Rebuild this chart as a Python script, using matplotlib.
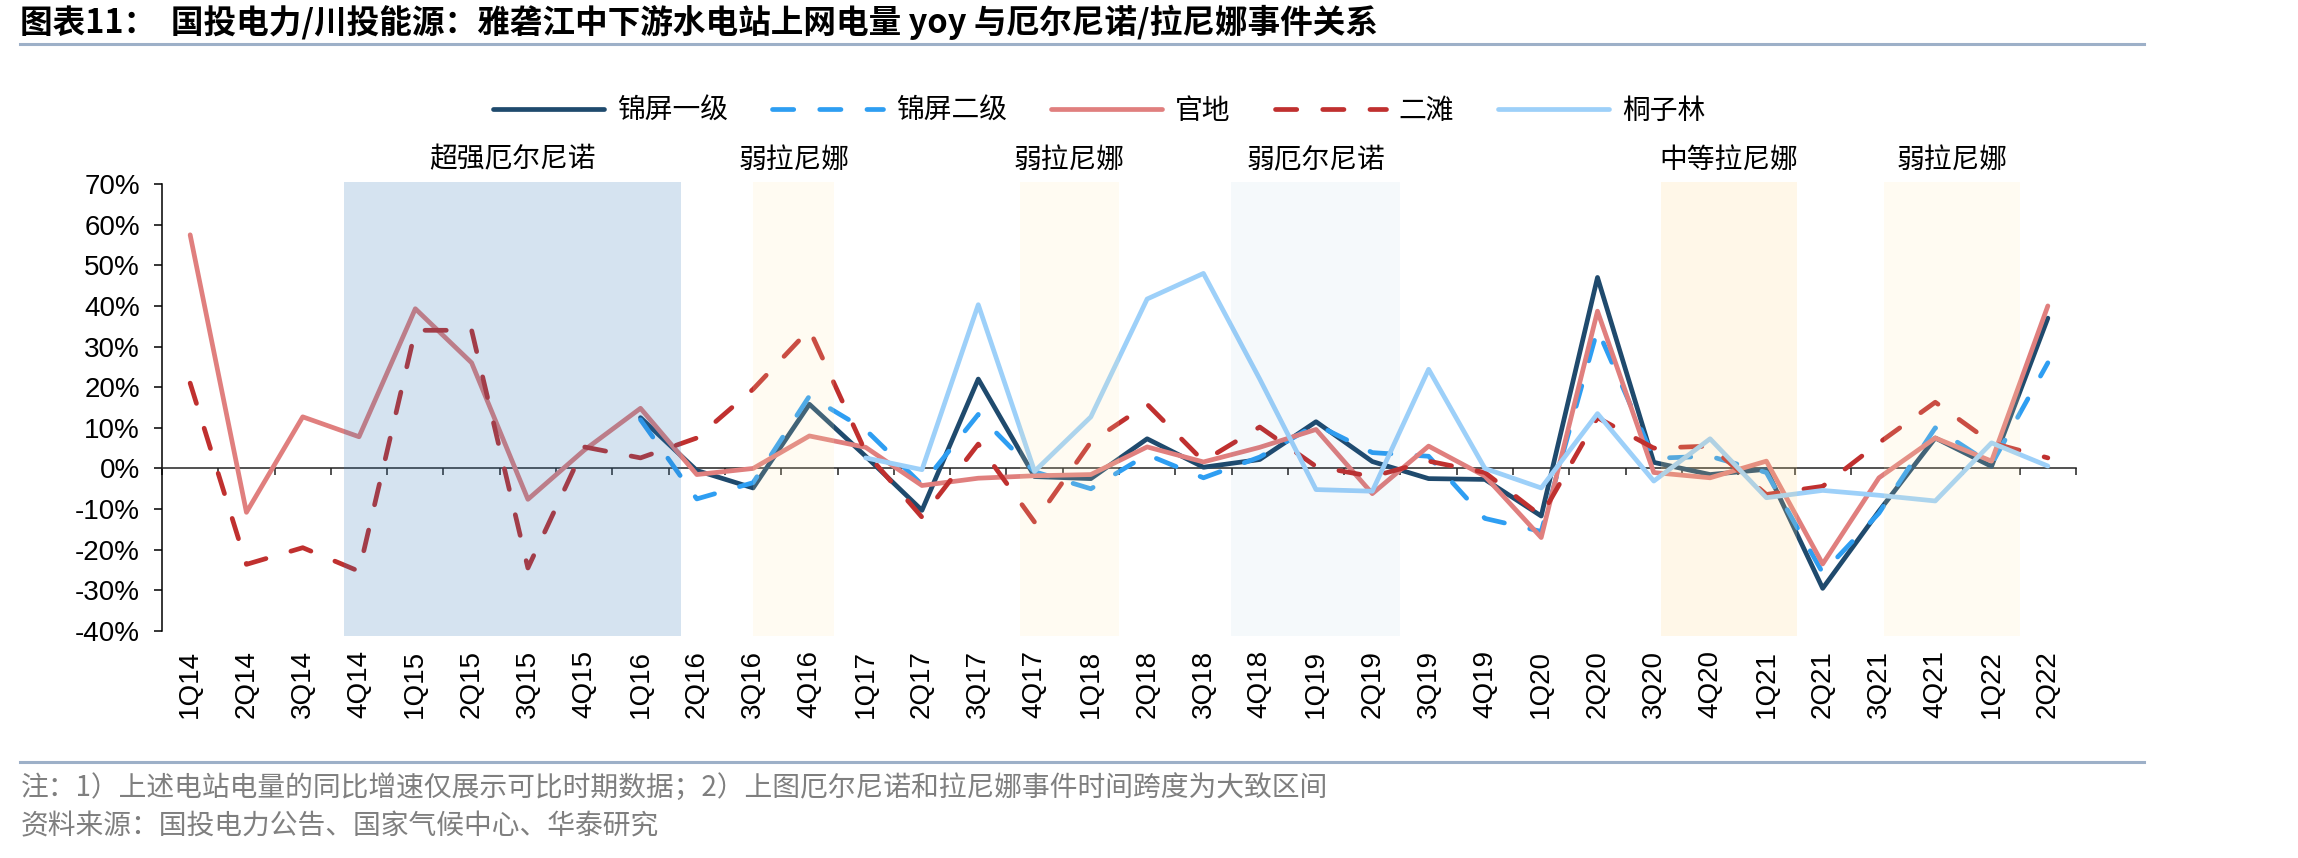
import numpy as np
import matplotlib
matplotlib.use("Agg")
import matplotlib.pyplot as plt
from matplotlib.lines import Line2D
import matplotlib.transforms as mtransforms

nan = np.nan

quarters = ["1Q14", "2Q14", "3Q14", "4Q14", "1Q15", "2Q15", "3Q15", "4Q15",
            "1Q16", "2Q16", "3Q16", "4Q16", "1Q17", "2Q17", "3Q17", "4Q17",
            "1Q18", "2Q18", "3Q18", "4Q18", "1Q19", "2Q19", "3Q19", "4Q19",
            "1Q20", "2Q20", "3Q20", "4Q20", "1Q21", "2Q21", "3Q21", "4Q21",
            "1Q22", "2Q22"]

jinping1 = [nan, nan, nan, nan, nan, nan, nan, nan,
            12.5, -0.5, -4.8, 15.8, 3.0, -10.3, 22.0, -2.0,
            -2.5, 7.3, 0.3, 2.2, 11.5, 1.7, -2.5, -2.7,
            -11.7, 47.0, 1.5, -1.5, -0.2, -29.5, -10.5, 7.5,
            0.5, 37.0]
jinping2 = [nan, nan, nan, nan, nan, nan, nan, nan,
            12.0, -7.5, -3.5, 17.8, 9.5, -4.0, 13.3, -0.8,
            -5.0, 3.4, -2.3, 2.8, 10.8, 3.9, 3.0, -12.3,
            -15.5, 34.2, 2.5, 3.0, -1.0, -25.7, -11.0, 10.0,
            1.0, 26.0]
guandi = [57.5, -10.8, 12.7, 7.8, 39.3, 26.0, -7.6, 4.5,
          14.8, -1.5, 0.0, 8.0, 5.2, -4.2, -2.4, -1.8,
          -1.5, 5.3, 1.6, 5.2, 9.6, -6.2, 5.5, -1.9,
          -17.0, 38.7, -1.0, -2.3, 1.8, -23.5, -2.3, 7.5,
          1.8, 40.0]
ertan = [21.0, -23.6, -19.5, -25.3, 34.0, 34.0, -24.5, 5.3,
         2.6, 7.5, 19.5, 34.2, 4.0, -12.0, 6.0, -13.2,
         6.5, 15.8, 1.8, 10.2, 0.5, -2.0, 1.8, -1.0,
         -11.7, 12.5, 5.0, 5.5, -6.4, -4.4, 6.3, 16.3,
         6.3, 2.6]
tongzilin = [nan, nan, nan, nan, nan, nan, nan, nan,
             nan, nan, nan, nan, 2.6, -0.3, 40.3, -0.7,
             12.7, 41.7, 48.0, 22.0, -5.2, -5.6, 24.4, 0.0,
             -4.8, 13.5, -3.1, 7.3, -7.2, -5.4, -6.6, -8.0,
             6.3, 0.6]

series_names = ["锦屏一级", "锦屏二级", "官地", "二滩", "桐子林"]

event_names = ["超强厄尔尼诺", "弱拉尼娜", "弱拉尼娜", "弱厄尔尼诺", "中等拉尼娜", "弱拉尼娜"]
event_start = [2.73, 10.0, 14.74, 18.49, 26.12, 30.09]
event_end = [8.72, 11.44, 16.5, 21.49, 28.54, 32.5]
event_kind = ["strong_nino", "weak_nina", "weak_nina", "weak_nino", "mid_nina", "weak_nina"]

y_ticks = [-40, -30, -20, -10, 0, 10, 20, 30, 40, 50, 60, 70]

title = "图表11：  国投电力/川投能源：雅砻江中下游水电站上网电量 yoy 与厄尔尼诺/拉尼娜事件关系"
note = "注：1）上述电站电量的同比增速仅展示可比时期数据；2）上图厄尔尼诺和拉尼娜事件时间跨度为大致区间"
source = "资料来源：国投电力公告、国家气候中心、华泰研究"

# ---------------- styling ----------------
CJK = ["Noto Sans CJK SC", "DejaVu Sans"]
LAT = ["Liberation Sans", "DejaVu Sans"]
plt.rcParams["font.family"] = CJK

W, H = 2298, 858
fig = plt.figure(figsize=(W / 100, H / 100), dpi=100)
fig.patch.set_facecolor("white")

ax = fig.add_axes([162 / W, 1 - 631 / H, (2076 - 162) / W, (631 - 184) / H])
ax.set_xlim(-0.5, len(quarters) - 0.5)
ax.set_ylim(-40, 70)

x = np.arange(len(quarters))
lw = 3.4
dash = (4.5, 5.5)
styles = [
    (jinping1, "#1F4A6D", None),
    (jinping2, "#2E9EF2", dash),
    (guandi, "#E07F7E", None),
    (ertan, "#C0302F", dash),
    (tongzilin, "#9DD0F9", None),
]
handles = []
for (vals, col, ds), name in zip(styles, series_names):
    kw = dict(color=col, lw=lw, solid_joinstyle="round", solid_capstyle="round",
              dash_capstyle="round", dash_joinstyle="round", zorder=3, label=name)
    if ds is not None:
        kw["dashes"] = ds
    ln, = ax.plot(x, vals, **kw)
    handles.append(ln)

# event shading (overlay on top of the lines)
kind_style = {
    "strong_nino": ("#2E75B6", 0.20),
    "weak_nino": ("#2E75B6", 0.045),
    "weak_nina": ("#FFE9B0", 0.16),
    "mid_nina": ("#FFD98C", 0.20),
}
trans_lbl = mtransforms.blended_transform_factory(ax.transData, ax.transAxes)
for nm, s, e, k in zip(event_names, event_start, event_end, event_kind):
    c, a = kind_style[k]
    ax.axvspan(s, e, ymin=-0.012, ymax=1.004, facecolor=c, alpha=a, lw=0,
               zorder=5, clip_on=False)
    ax.text((s + e) / 2, 1.055, nm, transform=trans_lbl, ha="center", va="center",
            fontsize=20, color="black", family=CJK, clip_on=False)

# axes
for sp in ["top", "right"]:
    ax.spines[sp].set_visible(False)
ax.spines["left"].set_color("black")
ax.spines["left"].set_linewidth(1.1)
ax.spines["bottom"].set_position(("data", 0))
ax.spines["bottom"].set_color("#222222")
ax.spines["bottom"].set_linewidth(1.1)
ax.spines["bottom"].set_zorder(2.5)

ax.set_xticks(np.arange(-0.5, len(quarters), 1.0))
ax.tick_params(axis="x", direction="out", length=5, width=1.1, labelbottom=False,
               color="#222222")
ax.set_yticks(y_ticks)
ax.set_yticklabels([f"{v}%" for v in y_ticks], family=LAT, fontsize=20)
ax.tick_params(axis="y", direction="out", length=5.5, width=1.1, pad=10.5)

sec = ax.secondary_xaxis(0)
sec.set_xticks(x, labels=quarters, rotation=90, family=LAT, fontsize=20)
sec.tick_params(length=0, pad=13.5)
sec.spines["bottom"].set_visible(False)

# legend
fig.legend(handles, series_names, loc="center", bbox_to_anchor=(1099 / W, 1 - 111 / H),
           ncol=5, frameon=False, handlelength=4.0, handletextpad=0.45,
           columnspacing=1.6, prop={"family": CJK, "size": 20})

# title, separators and footer
fig.text(20 / W, 1 - 22 / H, title, ha="left", va="center", fontsize=23.5,
         fontweight="bold", color="black", family=CJK)
sep_col = "#9DB0C8"
fig.add_artist(Line2D([20 / W, 2144 / W], [1 - 44 / H, 1 - 44 / H], color=sep_col, lw=2.2))
fig.add_artist(Line2D([20 / W, 2144 / W], [1 - 762 / H, 1 - 762 / H], color=sep_col, lw=2.2))
fig.text(21 / W, 1 - 788 / H, note, ha="left", va="center", fontsize=20,
         color="#7F7F7F", family=CJK)
fig.text(21 / W, 1 - 826 / H, source, ha="left", va="center", fontsize=20,
         color="#7F7F7F", family=CJK)

fig.savefig("out.png", dpi=100, facecolor="white")
